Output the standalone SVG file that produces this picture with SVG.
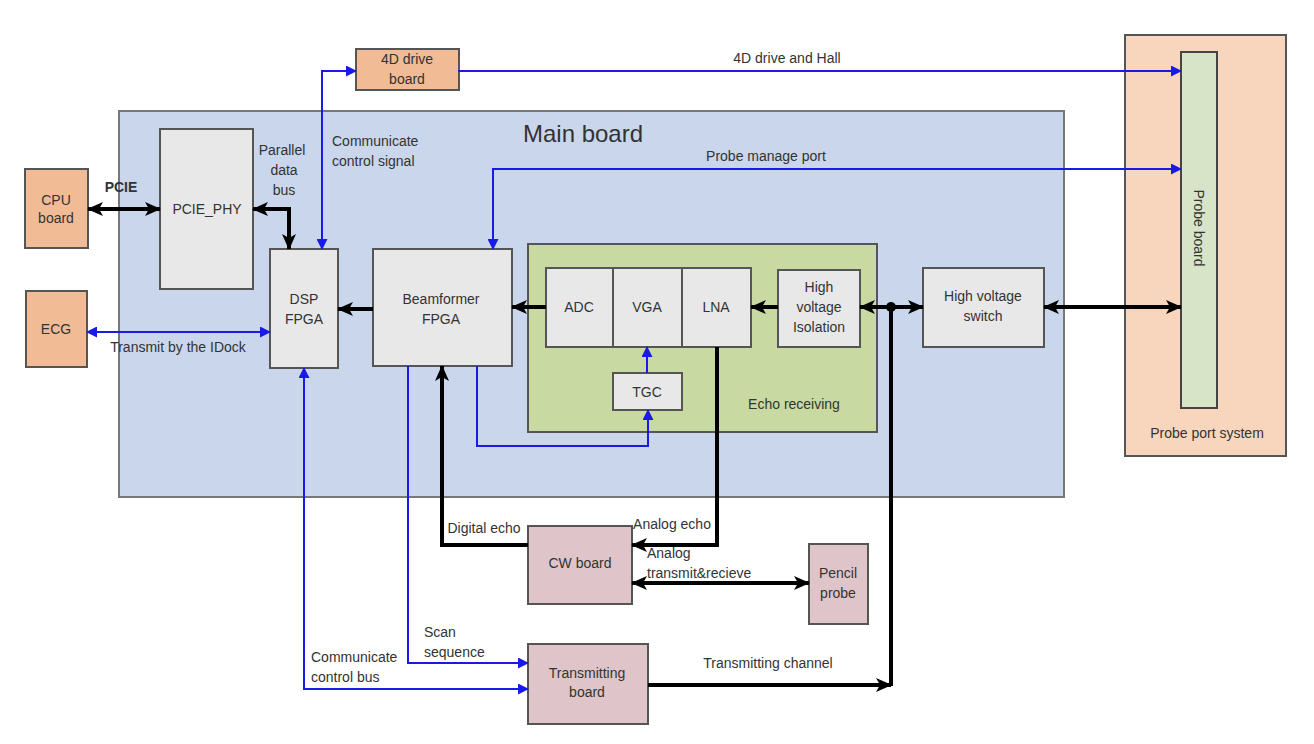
<svg xmlns="http://www.w3.org/2000/svg" width="1314" height="744" viewBox="0 0 1314 744">
<style>
text{font-family:"Liberation Sans",Arial,sans-serif;fill:#333;font-size:14px}
.lbl{font-size:14px}
.c{text-anchor:middle}
.box{fill:#e8e8e8;stroke:#555;stroke-width:2}
.org{fill:#f0bb95;stroke:#555;stroke-width:2}
.pink{fill:#dfc5ca;stroke:#555;stroke-width:2}
.blk{fill:none;stroke:#000;stroke-width:4}
.blu{fill:none;stroke:#1a1ae6;stroke-width:2}
</style>
<defs>
<marker id="ab" markerUnits="userSpaceOnUse" markerWidth="16" markerHeight="16" refX="15" refY="8" orient="auto-start-reverse" viewBox="0 0 16 16"><path d="M0,1 L16,8 L0,15 L4,8 z" fill="#000"/></marker>
<marker id="au" markerUnits="userSpaceOnUse" markerWidth="11" markerHeight="11" refX="10" refY="5.5" orient="auto-start-reverse" viewBox="0 0 11 11"><path d="M0,0 L11,5.5 L0,11 z" fill="#1a1ae6"/></marker>
</defs>
<rect width="1314" height="744" fill="#fff"/>
<g id="main-board"><rect x="119" y="111" width="945" height="386" fill="#c9d6ec" stroke="#777" stroke-width="2"/><text x="583" y="142" class="c" style="font-size:24px">Main board</text></g>
<g id="probe-port-system"><rect x="1125" y="35" width="161" height="421" fill="#f7d6bd" stroke="#555" stroke-width="2"/><text x="1207" y="438" class="c">Probe port system</text></g>
<g id="probe-board"><rect x="1181" y="52" width="36" height="356" fill="#d8e4c8" stroke="#444" stroke-width="2"/><text x="1199" y="228" class="c" transform="rotate(90 1199 228)" dy="5">Probe board</text></g>
<g id="echo-receiving"><rect x="528" y="244" width="349" height="188" fill="#c9d9a2" stroke="#555" stroke-width="2"/><text x="794" y="409" class="c">Echo receiving</text></g>
<g id="cpu-board"><rect x="25" y="169" width="63" height="79" class="org"/><text x="56" y="205" class="c">CPU</text><text x="56" y="223" class="c">board</text></g>
<g id="ecg"><rect x="26" y="291" width="61" height="76" class="org"/><text x="56" y="334" class="c">ECG</text></g>
<g id="4d-drive-board"><rect x="356" y="49" width="103" height="41" class="org"/><text x="407" y="64" class="c">4D drive</text><text x="407" y="84" class="c">board</text></g>
<g id="pcie-phy"><rect x="160" y="129" width="93" height="160" class="box"/><text x="207" y="214" class="c">PCIE_PHY</text></g>
<g id="dsp-fpga"><rect x="270" y="249" width="68" height="119" class="box"/><text x="304" y="304" class="c">DSP</text><text x="304" y="324" class="c">FPGA</text></g>
<g id="beamformer-fpga"><rect x="373" y="249" width="139" height="117" class="box"/><text x="441" y="304" class="c">Beamformer</text><text x="441" y="324" class="c">FPGA</text></g>
<g id="adc"><rect x="546" y="268" width="67" height="79" class="box"/><text x="579" y="312" class="c">ADC</text></g>
<g id="vga"><rect x="613" y="268" width="69" height="79" class="box"/><text x="647" y="312" class="c">VGA</text></g>
<g id="lna"><rect x="682" y="268" width="69" height="79" class="box"/><text x="716" y="312" class="c">LNA</text></g>
<g id="tgc"><rect x="613" y="373" width="69" height="37" class="box"/><text x="647" y="397" class="c">TGC</text></g>
<g id="hv-isolation"><rect x="778" y="270" width="82" height="77" class="box"/><text x="819" y="292" class="c">High</text><text x="819" y="312" class="c">voltage</text><text x="819" y="332" class="c">Isolation</text></g>
<g id="hv-switch"><rect x="923" y="268" width="121" height="79" class="box"/><text x="983" y="301" class="c">High voltage</text><text x="983" y="321" class="c">switch</text></g>
<g id="cw-board"><rect x="528" y="526" width="104" height="78" class="pink"/><text x="580" y="568" class="c">CW board</text></g>
<g id="pencil-probe"><rect x="809" y="544" width="59" height="80" class="pink"/><text x="838" y="578" class="c">Pencil</text><text x="838" y="598" class="c">probe</text></g>
<g id="transmitting-board"><rect x="528" y="644" width="120" height="80" class="pink"/><text x="587" y="678" class="c">Transmitting</text><text x="587" y="697" class="c">board</text></g>
<g id="connectors">
<line x1="88" y1="209" x2="160" y2="209" class="blk" marker-start="url(#ab)" marker-end="url(#ab)"/>
<text x="121" y="192" class="c lbl" style="font-weight:bold">PCIE</text>
<polyline points="253,209 289,209 289,249" class="blk" marker-start="url(#ab)" marker-end="url(#ab)"/>
<text x="282" y="155" class="c lbl">Parallel</text><text x="284" y="175" class="c lbl">data</text><text x="284" y="195" class="c lbl">bus</text>
<polyline points="322,249 322,71 356,71" class="blu" marker-start="url(#au)" marker-end="url(#au)"/>
<text x="332" y="146" class="lbl">Communicate</text><text x="332" y="166" class="lbl">control signal</text>
<line x1="458" y1="71" x2="1181" y2="71" class="blu" marker-end="url(#au)"/>
<text x="787" y="63" class="c lbl">4D drive and Hall</text>
<polyline points="1181,169 493,169 493,249" class="blu" marker-start="url(#au)" marker-end="url(#au)"/>
<text x="766" y="161" class="c lbl">Probe manage port</text>
<line x1="87" y1="332" x2="270" y2="332" class="blu" marker-start="url(#au)" marker-end="url(#au)"/>
<text x="178" y="352" class="c lbl">Transmit by the IDock</text>
<line x1="373" y1="309" x2="338" y2="309" class="blk" marker-end="url(#ab)"/>
<line x1="546" y1="307" x2="512" y2="307" class="blk" marker-end="url(#ab)"/>
<line x1="778" y1="307" x2="751" y2="307" class="blk" marker-end="url(#ab)"/>
<line x1="891" y1="307" x2="860" y2="307" class="blk" marker-end="url(#ab)"/>
<line x1="891" y1="307" x2="923" y2="307" class="blk" marker-end="url(#ab)"/>
<circle cx="891" cy="307" r="5" fill="#000"/>
<line x1="1044" y1="307" x2="1181" y2="307" class="blk" marker-start="url(#ab)" marker-end="url(#ab)"/>
<line x1="891" y1="307" x2="891" y2="686" class="blk"/>
<line x1="648" y1="685" x2="891" y2="685" class="blk" marker-end="url(#ab)"/>
<text x="768" y="668" class="c lbl">Transmitting channel</text>
<line x1="647" y1="373" x2="647" y2="347" class="blu" marker-end="url(#au)"/>
<polyline points="477,366 477,446 648,446 648,410" class="blu" marker-end="url(#au)"/>
<polyline points="528,545 442,545 442,366" class="blk" marker-end="url(#ab)"/>
<text x="484" y="533" class="c lbl">Digital echo</text>
<polyline points="717,347 717,545 632,545" class="blk" marker-end="url(#ab)"/>
<text x="672" y="529" class="c lbl">Analog echo</text>
<line x1="632" y1="583" x2="809" y2="583" class="blk" marker-start="url(#ab)" marker-end="url(#ab)"/>
<text x="647" y="558" class="lbl">Analog</text><text x="647" y="578" class="lbl">transmit&amp;recieve</text>
<polyline points="408,366 408,663 528,663" class="blu" marker-end="url(#au)"/>
<text x="424" y="637" class="lbl">Scan</text><text x="424" y="657" class="lbl">sequence</text>
<polyline points="304,368 304,689 528,689" class="blu" marker-start="url(#au)" marker-end="url(#au)"/>
<text x="311" y="662" class="lbl">Communicate</text><text x="311" y="682" class="lbl">control bus</text>
</g>
</svg>
